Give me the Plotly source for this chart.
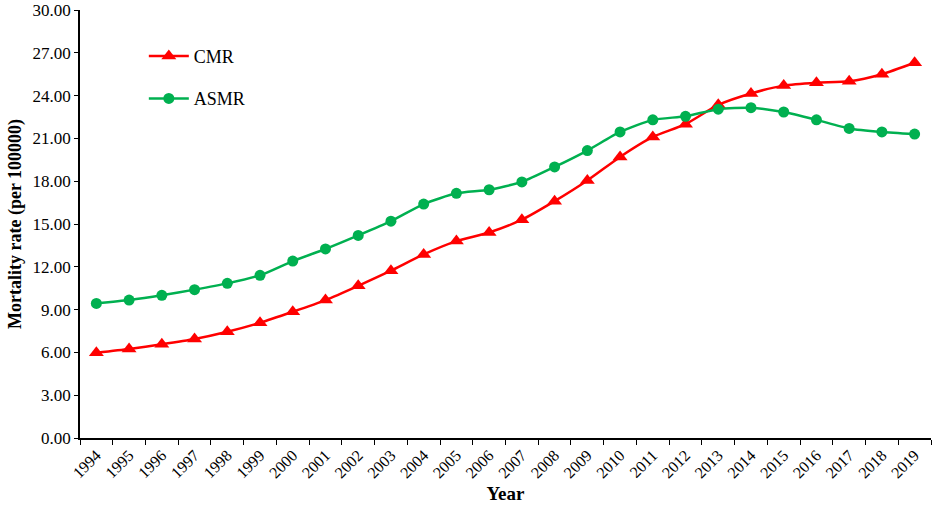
import plotly.graph_objects as go

years = [str(y) for y in range(1994, 2020)]

cmr = [5.98, 6.24, 6.57, 6.94, 7.45, 8.08, 8.85, 9.67, 10.67, 11.73, 12.87, 13.8,
       14.4, 15.3, 16.6, 18.05, 19.7, 21.1, 22.0, 23.35, 24.15, 24.7, 24.9, 25.0,
       25.5, 26.3]
asmr = [9.43, 9.67, 10.0, 10.4, 10.84, 11.4, 12.4, 13.25, 14.2, 15.2, 16.4, 17.15,
        17.4, 17.95, 19.0, 20.15, 21.45, 22.3, 22.55, 23.05, 23.15, 22.85, 22.3, 21.7,
        21.45, 21.3]

y_ticks = [0, 3, 6, 9, 12, 15, 18, 21, 24, 27, 30]

font_name = "Liberation Serif"

fig = go.Figure()
fig.add_trace(go.Scatter(
    x=years, y=cmr, name="CMR", mode="lines+markers", legendgroup="cmr",
    line=dict(color="#FF0000", width=2.5, shape="spline", smoothing=0.6),
    marker=dict(symbol="triangle-up", size=13, color="#FF0000"),
))
fig.add_trace(go.Scatter(
    x=years, y=asmr, name="ASMR", mode="lines+markers", legendgroup="asmr",
    line=dict(color="#00B050", width=2.5, shape="spline", smoothing=0.6),
    marker=dict(symbol="circle", size=11, color="#00B050"),
))

fig.update_layout(
    width=935, height=507,
    margin=dict(l=80, r=4, t=10, b=69),
    plot_bgcolor="white", paper_bgcolor="white",
    font=dict(family=font_name, size=16, color="black"),
    legend=dict(x=0.075, y=0.935, xanchor="left", yanchor="top",
                bgcolor="rgba(0,0,0,0)", font=dict(size=18),
                tracegroupgap=16, itemwidth=40),
    showlegend=True,
)
fig.update_xaxes(
    type="category", range=[-0.5, len(years) - 0.5],
    tickson="boundaries", ticks="outside", ticklen=5,
    tickcolor="black", showline=True, linecolor="black", linewidth=1.5,
    showgrid=False, tickangle=-45, tickfont=dict(size=16), automargin=False,
    title=dict(text="<b>Year</b>", font=dict(size=19), standoff=6),
)
fig.update_yaxes(
    range=[0, 30], tickvals=y_ticks, tickformat=".2f",
    ticks="outside", ticklen=4, tickcolor="black", automargin=False,
    showline=True, linecolor="black", linewidth=1.5, showgrid=False,
    zeroline=False, tickfont=dict(size=17),
    title=dict(text="<b>Mortality rate (per 100000)</b>", font=dict(size=18), standoff=6),
)

# page body has an 8px default margin; drop it so the figure fills the window
fig.write_html("out.html", config={"displayModeBar": False},
               post_script="document.body.style.margin = '0';")
